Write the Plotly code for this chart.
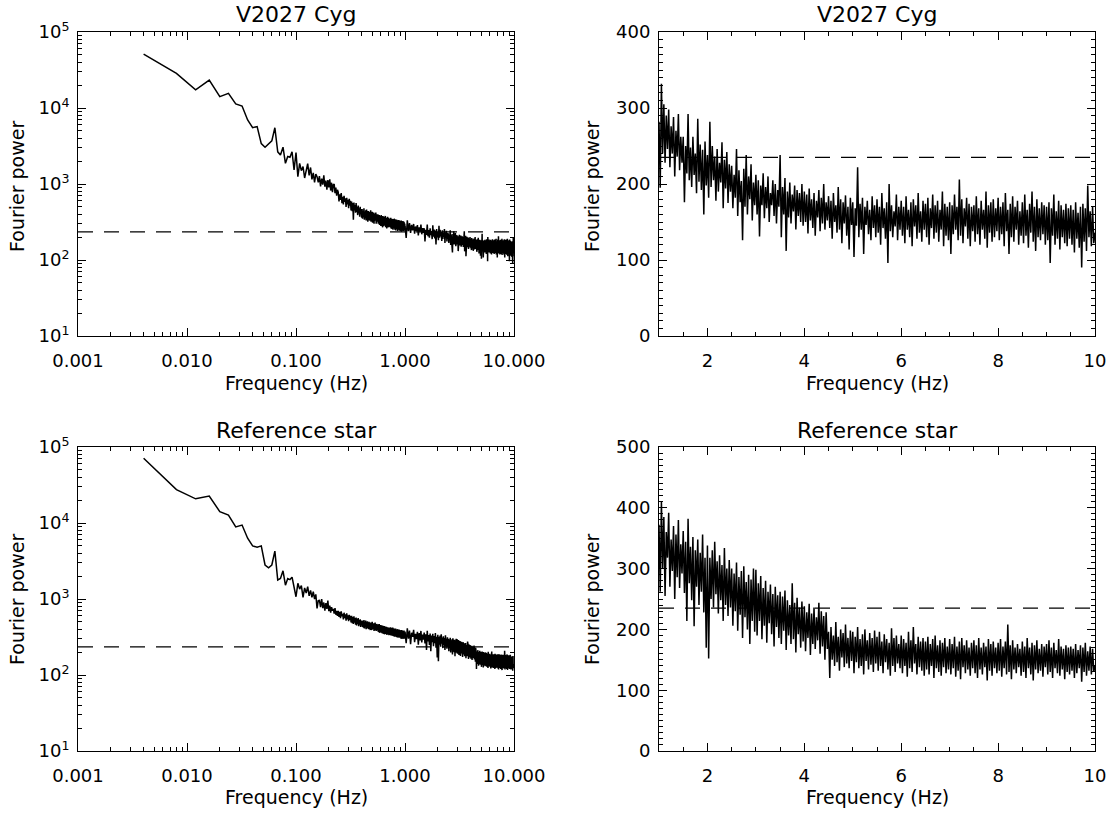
import numpy as np
import plotly.graph_objects as go

# ---------------- data ----------------
THRESHOLD = 235.0
LOW_DF = 0.004          # frequency resolution of the low-frequency part (Hz)
HIGH_F0, HIGH_DF = 1.0, 0.025   # high-frequency part grid (Hz)

# V2027 Cyg, 0.004 .. 0.996 Hz
v2027_low = [
    51000, 28600, 17300, 23300, 14100, 15600, 11300, 10600, 6950, 5500,
    5700, 3400, 3050, 3400, 3700, 5500, 2650, 2400, 3050, 1870,
    2300, 2250, 2660, 1530, 2600, 1250, 1870, 1500, 1700, 1200,
    1500, 1850, 1300, 1650, 1150, 1400, 1050, 1350, 1250, 1050,
    1270, 930, 1180, 980, 1300, 920, 1110, 840, 1130, 900,
    1150, 820, 1040, 780, 980, 1000, 760, 900, 700, 840,
    780, 590, 730, 620, 760, 560, 680, 540, 700, 580,
    650, 500, 660, 540, 620, 480, 640, 520, 600, 450,
    590, 440, 560, 340, 570, 450, 530, 420, 560, 430,
    500, 390, 520, 410, 480, 370, 500, 400, 470, 360,
    470, 350, 440, 370, 480, 340, 430, 360, 450, 330,
    460, 350, 420, 320, 440, 360, 430, 330, 410, 350,
    450, 320, 410, 340, 430, 310, 400, 350, 420, 300,
    410, 330, 390, 340, 420, 300, 400, 320, 390, 330,
    400, 300, 380, 310, 390, 290, 370, 320, 380, 280,
    390, 300, 360, 290, 370, 270, 380, 300, 350, 280,
    370, 290, 350, 300, 380, 270, 350, 290, 360, 260,
    350, 280, 370, 290, 340, 270, 360, 280, 340, 285,
    350, 270, 340, 280, 360, 260, 330, 280, 350, 255,
    340, 275, 320, 250, 345, 270, 330, 260, 350, 265,
    320, 250, 340, 270, 330, 245, 340, 265, 315, 255,
    335, 260, 325, 240, 330, 265, 310, 250, 335, 255,
    320, 245, 330, 260, 315, 240, 325, 255, 310, 250,
    330, 235, 315, 255, 320, 245, 310, 250, 325, 240,
    310, 255, 320, 240, 315, 250, 305, 245, 300,
]

# V2027 Cyg, 1.0 .. 10.0 Hz
v2027_high = [
    282, 195, 332, 240, 305, 228, 290, 246, 298, 222, 276, 240, 288, 210, 270, 236, 292, 218, 262, 228,
    262, 176, 250, 214, 292, 205, 248, 196, 262, 212, 240, 188, 286, 203, 252, 192, 245, 160, 256, 198,
    238, 182, 282, 196, 250, 205, 236, 178, 246, 190, 228, 202, 255, 168, 232, 194, 242, 175, 226, 190,
    224, 168, 212, 182, 246, 158, 218, 176, 204, 126, 220, 170, 238, 160, 210, 180, 226, 152, 202, 172,
    212, 160, 205, 131, 198, 172, 214, 155, 196, 168, 210, 150, 188, 172, 205, 158, 200, 148, 192, 170,
    238, 130, 196, 160, 208, 112, 190, 156, 202, 148, 186, 164, 198, 140, 192, 158, 188, 150, 200, 145,
    190, 150, 186, 135, 194, 152, 180, 142, 188, 132, 178, 156, 192, 138, 182, 148, 200, 140, 176, 152,
    184, 142, 178, 128, 188, 150, 172, 136, 196, 140, 180, 122, 176, 148, 185, 132, 170, 114, 182, 146,
    176, 104, 168, 145, 222, 130, 174, 140, 182, 108, 170, 146, 178, 134, 166, 126, 184, 142, 172, 130,
    180, 136, 170, 120, 188, 142, 168, 128, 176, 96, 200, 138, 172, 130, 164, 144, 186, 126, 170, 140,
    178, 132, 170, 122, 184, 140, 166, 130, 176, 118, 180, 144, 172, 128, 188, 136, 164, 124, 178, 140,
    174, 130, 182, 120, 168, 142, 186, 128, 172, 136, 178, 124, 166, 140, 190, 118, 174, 132, 170, 126,
    176, 108, 172, 134, 186, 140, 170, 126, 206, 132, 180, 122, 168, 144, 182, 128, 174, 118, 170, 138,
    172, 124, 184, 134, 168, 120, 178, 140, 166, 128, 190, 116, 172, 136, 176, 124, 180, 130, 168, 138,
    182, 126, 170, 134, 176, 118, 188, 138, 166, 108, 174, 130, 184, 124, 170, 140, 178, 120, 164, 132,
    176, 122, 186, 132, 166, 116, 174, 136, 190, 124, 170, 112, 180, 130, 168, 126, 176, 134, 172, 120,
    170, 126, 176, 96, 168, 132, 186, 120, 164, 128, 178, 114, 172, 130, 166, 122, 174, 118, 168, 128,
    172, 120, 166, 110, 176, 128, 162, 116, 170, 90, 174, 124, 168, 112, 198, 130, 164, 118, 170, 122,
    136,
]

# Reference star, 0.004 .. 0.996 Hz
ref_low = [
    71000, 27500, 20800, 22600, 14100, 12700, 8900, 9400, 6300, 5000,
    4800, 5000, 2800, 2570, 2800, 4270, 1780, 1860, 2350, 1520,
    1860, 1800, 1940, 1500, 1070, 1610, 1350, 1500, 1050, 1400,
    1200, 1450, 1100, 1300, 1050, 1250, 1000, 1150, 750, 950,
    960, 780, 1000, 760, 900, 700, 880, 740, 950, 690,
    820, 660, 780, 700, 740, 640, 760, 620, 700, 600,
    700, 580, 680, 560, 690, 590, 640, 540, 660, 560,
    630, 520, 650, 540, 610, 510, 620, 530, 600, 490,
    600, 480, 580, 470, 590, 490, 560, 460, 570, 450,
    550, 470, 560, 440, 530, 460, 540, 430, 520, 450,
    520, 430, 510, 420, 530, 410, 500, 440, 520, 400,
    490, 430, 510, 410, 480, 400, 500, 420, 470, 390,
    490, 410, 480, 390, 500, 400, 470, 410, 480, 380,
    470, 400, 490, 390, 460, 380, 470, 400, 450, 385,
    465, 370, 450, 385, 470, 360, 440, 380, 455, 365,
    430, 375, 450, 355, 435, 370, 445, 350, 420, 365,
    440, 345, 425, 360, 435, 350, 415, 365, 430, 340,
    420, 355, 425, 345, 410, 360, 420, 335, 405, 350,
    420, 340, 410, 350, 425, 330, 400, 345, 415, 335,
    405, 340, 420, 325, 395, 340, 410, 330, 400, 320,
    405, 335, 395, 325, 410, 320, 390, 335, 400, 315,
    395, 330, 385, 320, 400, 310, 390, 325, 380, 315,
    395, 320, 385, 310, 390, 325, 375, 310, 385, 300,
    380, 320, 390, 305, 375, 315, 385, 300, 370, 310,
    380, 305, 375, 300, 385, 310, 370, 300, 360,
]

# Reference star, 1.0 .. 10.0 Hz
ref_high = [
    372, 262, 410, 300, 385, 255, 360, 318, 392, 270, 348, 296, 370, 250, 356, 286, 380, 268, 340, 292,
    362, 260, 344, 214, 382, 276, 336, 248, 352, 205, 330, 270, 348, 240, 326, 262, 356, 228, 318, 170,
    338, 152, 318, 250, 330, 236, 344, 258, 312, 226, 322, 248, 306, 214, 334, 240, 300, 222, 314, 236,
    300, 206, 292, 230, 310, 198, 286, 224, 296, 186, 304, 220, 278, 200, 290, 176, 282, 214, 300, 196,
    298, 190, 276, 214, 288, 184, 268, 206, 280, 178, 262, 210, 274, 192, 258, 172, 270, 204, 256, 186,
    262, 176, 254, 198, 264, 166, 248, 190, 240, 176, 276, 184, 244, 162, 252, 192, 236, 170, 246, 180,
    238, 164, 228, 186, 242, 158, 226, 176, 236, 168, 220, 182, 244, 160, 230, 172, 222, 150, 228, 168,
    196, 120, 204, 150, 190, 140, 212, 146, 188, 132, 200, 154, 194, 138, 208, 144, 186, 136, 198, 148,
    196, 128, 188, 146, 204, 136, 184, 140, 192, 126, 200, 148, 182, 134, 194, 142, 186, 130, 198, 144,
    188, 132, 196, 140, 180, 128, 192, 146, 184, 134, 178, 124, 202, 140, 186, 130, 190, 144, 176, 136,
    190, 128, 184, 140, 178, 122, 196, 136, 182, 130, 204, 144, 176, 126, 188, 138, 180, 132, 186, 124,
    180, 134, 188, 126, 176, 140, 184, 120, 190, 136, 174, 130, 182, 124, 178, 138, 186, 128, 172, 134,
    184, 126, 176, 136, 188, 122, 172, 132, 180, 118, 186, 138, 174, 128, 182, 134, 170, 124, 178, 136,
    182, 128, 174, 120, 186, 134, 170, 126, 178, 138, 172, 116, 184, 132, 176, 124, 180, 136, 170, 128,
    178, 132, 184, 122, 172, 136, 180, 126, 208, 130, 174, 118, 182, 134, 170, 128, 176, 138, 168, 124,
    180, 130, 172, 120, 186, 136, 170, 126, 178, 116, 174, 134, 182, 128, 168, 132, 176, 122, 172, 138,
    176, 126, 182, 130, 170, 120, 178, 136, 166, 128, 184, 124, 172, 134, 168, 118, 174, 130, 170, 126,
    172, 132, 168, 120, 176, 128, 166, 136, 174, 114, 170, 130, 178, 124, 164, 132, 172, 126, 168, 130,
    140,
]

panel_titles = ["V2027 Cyg", "V2027 Cyg", "Reference star", "Reference star"]
log_x_ticks = [0.001, 0.01, 0.1, 1.0, 10.0]
log_x_labels = ["0.001", "0.010", "0.100", "1.000", "10.000"]
log_y_ticks = [10, 100, 1000, 10000, 100000]
log_y_labels = ["10<sup>1</sup>", "10<sup>2</sup>", "10<sup>3</sup>", "10<sup>4</sup>", "10<sup>5</sup>"]
x_title = "Frequency (Hz)"
y_title = "Fourier power"

# ---------------- frequency grids ----------------
def low_freq(vals):
    return LOW_DF * (1 + np.arange(len(vals)))

def high_freq(vals):
    return HIGH_F0 + HIGH_DF * np.arange(len(vals))

# ---------------- figure geometry (page pixels) ----------------
W, H = 1106, 814
FONT = "DejaVu Sans"
ML, MR, MT, MB = 78, W - 1095, 32, H - 751
PW, PH = W - ML - MR, H - MT - MB

def px_x(px):
    return (px - ML) / PW

def px_y(py):
    return (H - MB - py) / PH

XL = [px_x(78), px_x(514)]
XR = [px_x(659), px_x(1095)]
YT = [px_y(336), px_y(32)]
YB = [px_y(751), px_y(447)]

fig = go.Figure()
line = dict(color="black", width=1.5)

for vals, fx in ((v2027_low, low_freq), (v2027_high, high_freq)):
    fig.add_trace(go.Scatter(x=fx(vals), y=vals, mode="lines", line=line, xaxis="x", yaxis="y", showlegend=False))
fig.add_trace(go.Scatter(x=high_freq(v2027_high), y=v2027_high, mode="lines", line=line, xaxis="x2", yaxis="y2", showlegend=False))
for vals, fx in ((ref_low, low_freq), (ref_high, high_freq)):
    fig.add_trace(go.Scatter(x=fx(vals), y=vals, mode="lines", line=line, xaxis="x3", yaxis="y3", showlegend=False))
fig.add_trace(go.Scatter(x=high_freq(ref_high), y=ref_high, mode="lines", line=line, xaxis="x4", yaxis="y4", showlegend=False))

common = dict(
    showline=True, linecolor="black", linewidth=1, mirror="allticks",
    ticks="inside", ticklen=8, tickcolor="black", tickwidth=1,
    showgrid=False, zeroline=False, automargin=False, ticklabeloverflow="allow",
    tickfont=dict(family=FONT, size=18, color="black"),
)

minor_log_x = [m * 10.0 ** e for e in range(-3, 1) for m in range(2, 10)]
minor_log_y = [m * 10.0 ** e for e in range(1, 5) for m in range(2, 10)]

def log_x(dom, anchor):
    return dict(common, type="log", domain=dom, anchor=anchor, range=[-3, 1],
                tickmode="array", tickvals=log_x_ticks, ticktext=log_x_labels,
                ticklabelstandoff=8,
                minor=dict(tickmode="array", tickvals=minor_log_x, ticks="inside", ticklen=4,
                           tickcolor="black", showgrid=False))

def log_y(dom, anchor):
    return dict(common, type="log", domain=dom, anchor=anchor, range=[1, 5],
                tickmode="array", tickvals=log_y_ticks, ticktext=log_y_labels,
                ticklabelstandoff=4,
                minor=dict(tickmode="array", tickvals=minor_log_y, ticks="inside", ticklen=4,
                           tickcolor="black", showgrid=False))

def lin_x(dom, anchor):
    return dict(common, domain=dom, anchor=anchor, range=[1, 10],
                tickmode="array", tickvals=[2, 4, 6, 8, 10], ticklabelstandoff=8,
                minor=dict(dtick=0.5, tick0=0, ticks="inside", ticklen=4, tickcolor="black", showgrid=False))

def lin_y(dom, anchor, top):
    return dict(common, domain=dom, anchor=anchor, range=[0, top],
                tickmode="linear", tick0=0, dtick=100, ticklabelstandoff=4,
                minor=dict(dtick=10, tick0=0, ticks="inside", ticklen=4, tickcolor="black", showgrid=False))

fig.update_layout(
    width=W, height=H,
    margin=dict(l=ML, r=MR, t=MT, b=MB, autoexpand=False),
    paper_bgcolor="white", plot_bgcolor="white",
    font=dict(family=FONT, color="black"),
    xaxis=log_x(XL, "y"), yaxis=log_y(YT, "x"),
    xaxis2=lin_x(XR, "y2"), yaxis2=lin_y(YT, "x2", 400),
    xaxis3=log_x(XL, "y3"), yaxis3=log_y(YB, "x3"),
    xaxis4=lin_x(XR, "y4"), yaxis4=lin_y(YB, "x4", 500),
)

# threshold lines
for xr, yr in (("x", "y"), ("x2", "y2"), ("x3", "y3"), ("x4", "y4")):
    fig.add_shape(type="line", xref=f"{xr} domain", yref=yr, x0=0, x1=1, y0=THRESHOLD, y1=THRESHOLD,
                  line=dict(color="black", width=1.2, dash="15px,11px"))

# titles and axis titles
ann = []
centers_px = [(78 + 514) / 2, (659 + 1095) / 2]
for i, t in enumerate(panel_titles):
    cx = px_x(centers_px[i % 2])
    ann.append(dict(text=t, x=cx, y=px_y(15 if i < 2 else 430), xref="paper", yref="paper", showarrow=False,
                    xanchor="center", yanchor="middle", font=dict(family=FONT, size=22, color="black")))
    ann.append(dict(text=x_title, x=cx, y=px_y(383 if i < 2 else 797), xref="paper", yref="paper", showarrow=False,
                    xanchor="center", yanchor="middle", font=dict(family=FONT, size=19, color="black")))
    ann.append(dict(text=y_title, x=px_x(17 if i % 2 == 0 else 592), y=px_y(187 if i < 2 else 600),
                    xref="paper", yref="paper", showarrow=False, textangle=-90,
                    xanchor="center", yanchor="middle", font=dict(family=FONT, size=19, color="black")))
fig.update_layout(annotations=ann)

# the page body gets no margin so that the figure sits at the window's top-left corner
fig.write_html("out.html", config={"displayModeBar": False},
               post_script="document.body.style.margin='0px';")
